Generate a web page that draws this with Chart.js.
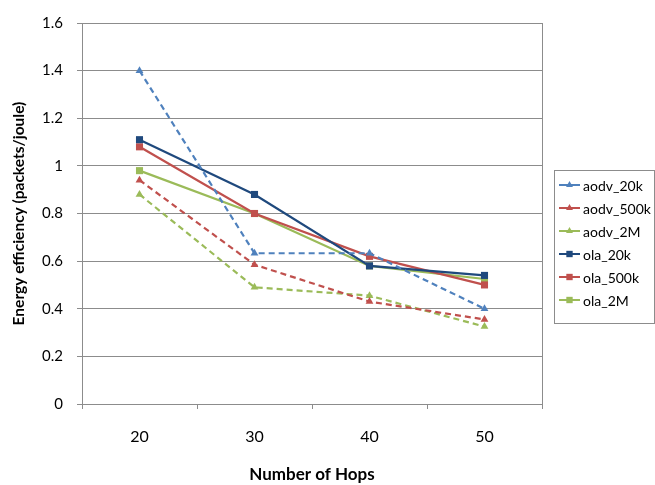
<!DOCTYPE html>
<html>
<head>
<meta charset="utf-8">
<script src="https://cdn.jsdelivr.net/npm/chart.js@4/dist/chart.umd.min.js"></script>
<style>
  html, body { margin: 0; padding: 0; background: #fff; }
  #wrap { width: 655px; height: 485px; position: relative; }
</style>
</head>
<body>
<div id="wrap"><canvas id="hops"></canvas></div>
<script>
// hop counts and the efficiency series
const hops = ['20', '30', '40', '50'];
const yTicks = [0, 0.2, 0.4, 0.6, 0.8, 1, 1.2, 1.4, 1.6];

const aodv20k  = [1.40, 0.633, 0.633, 0.40];
const aodv500k = [0.94, 0.585, 0.43, 0.355];
const aodv2M   = [0.88, 0.49, 0.455, 0.325];
const ola20k   = [1.11, 0.88, 0.58, 0.54];
const ola500k  = [1.08, 0.80, 0.62, 0.50];
const ola2M    = [0.98, 0.80, 0.58, 0.525];

const GRID = '#8c8c8c';
const FONT = 'Lato, "Open Sans", sans-serif';

const mk = (label, data, color, shape, dashed) => ({
  label, data,
  borderColor: color, backgroundColor: color,
  borderWidth: 2.2,
  borderDash: dashed ? [6, 4] : [],
  pointStyle: shape,
  pointRadius: shape === 'rect' ? 5 : 4.5,
  pointBorderWidth: 0,
  tension: 0,
});

// boxed legend on the right, line + marker + label per row
const boxLegend = {
  id: 'boxLegend',
  afterDraw(chart) {
    const ctx = chart.ctx;
    const x0 = 554, y0 = 170, w = 100, h = 153, step = 23;
    ctx.save();
    ctx.strokeStyle = '#8c8c8c';
    ctx.lineWidth = 1;
    ctx.strokeRect(x0 + 0.5, y0 + 0.5, w, h);
    ctx.font = '14px ' + FONT;
    ctx.textBaseline = 'middle';
    chart.data.datasets.forEach((ds, i) => {
      const y = y0 + 15 + i * step;
      ctx.strokeStyle = ds.borderColor;
      ctx.lineWidth = 2;
      ctx.setLineDash([]);
      ctx.beginPath();
      ctx.moveTo(x0 + 5, y);
      ctx.lineTo(x0 + 26, y);
      ctx.stroke();
      ctx.fillStyle = ds.backgroundColor;
      Chart.helpers.drawPoint(ctx, { pointStyle: ds.pointStyle, radius: ds.pointRadius - 0.5, borderWidth: 0 }, x0 + 15.5, y);
      ctx.fillStyle = '#000';
      ctx.fillText(ds.label, x0 + 29, y + 1);
    });
    ctx.restore();
  }
};

// plot area frame on the right side
const frame = {
  id: 'frame',
  beforeDatasetsDraw(chart) {
    const { ctx, chartArea: a } = chart;
    ctx.save();
    ctx.strokeStyle = GRID;
    ctx.lineWidth = 1;
    ctx.beginPath();
    ctx.moveTo(Math.round(a.right) + 0.5, a.top);
    ctx.lineTo(Math.round(a.right) + 0.5, a.bottom);
    ctx.stroke();
    ctx.restore();
  }
};

new Chart(document.getElementById('hops'), {
  type: 'line',
  data: {
    labels: hops,
    datasets: [
      mk('aodv_20k',  aodv20k,  '#4f81bd', 'triangle', true),
      mk('aodv_500k', aodv500k, '#c0504d', 'triangle', true),
      mk('aodv_2M',   aodv2M,   '#9bbb59', 'triangle', true),
      mk('ola_20k',   ola20k,   '#1f497d', 'rect', false),
      mk('ola_500k',  ola500k,  '#c0504d', 'rect', false),
      mk('ola_2M',    ola2M,    '#9bbb59', 'rect', false),
    ]
  },
  options: {
    responsive: true,
    maintainAspectRatio: false,
    animation: false,
    layout: { padding: { top: 20, right: 113, bottom: 0, left: 0 } },
    plugins: { legend: { display: false }, tooltip: { enabled: false } },
    scales: {
      x: {
        offset: true,
        grid: { offset: true, drawOnChartArea: false, color: GRID, tickLength: 5 },
        border: { color: GRID },
        ticks: { color: '#000', font: { family: FONT, size: 16 }, padding: 18 },
        title: { display: true, text: 'Number of Hops', color: '#000',
                 font: { family: FONT, size: 17, weight: 'bold' }, padding: { top: 0, bottom: 0 } },
        afterFit: s => { s.height = 81; }
      },
      y: {
        min: 0, max: 1.6,
        afterBuildTicks: s => { s.ticks = yTicks.map(v => ({ value: v })); },
        grid: { color: GRID, tickLength: 5 },
        border: { color: GRID },
        ticks: { color: '#000', font: { family: FONT, size: 15 }, padding: 14,
                 callback: v => String(Math.round(v * 10) / 10) },
        title: { display: true, text: 'Energy efficiency (packets/joule)', color: '#000',
                 font: { family: FONT, size: 15.5, weight: 'bold' }, padding: { top: 10, bottom: 0 } },
        afterFit: s => { s.width = 82; }
      }
    }
  },
  plugins: [frame, boxLegend]
});
</script>
</body>
</html>
